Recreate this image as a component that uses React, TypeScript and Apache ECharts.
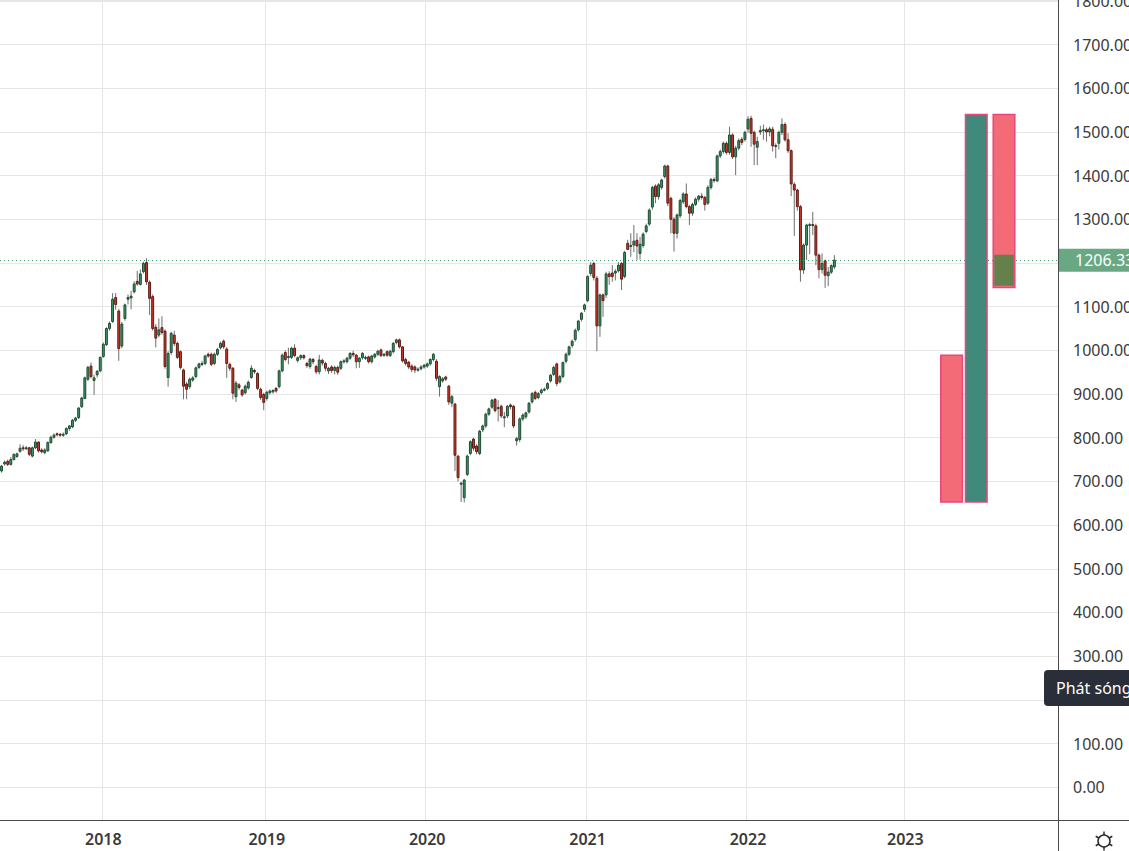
import { useEffect, useRef } from 'react';
import * as echarts from 'echarts';

// ---- weekly VN-Index style candles: [open, close, low, high] ----
const START_WEEK = '2017-05-15';
const SKIPPED_WEEKS = ['2022-01-31']; // Tết week, no trading bar
const TOTAL_SLOTS = 343; // bars + empty future weeks on the axis

const ohlc2017 = [
  [724, 735, 720, 738], [740, 744, 736, 748], [746, 739, 735, 750], [739, 750, 736, 756],
  [750, 762, 748, 764], [757, 763, 754, 766], [769, 776, 766, 785], [777, 776, 770, 783],
  [777, 777, 772, 781], [777, 762, 758, 779], [758, 777, 755, 780], [777, 790, 774, 797],
  [790, 770, 766, 792], [772, 768, 764, 776], [766, 772, 762, 776], [770, 789, 768, 792],
  [789, 801, 786, 805], [801, 806, 798, 810], [809, 807, 803, 812], [808, 806, 802, 811],
  [806, 808, 802, 812], [809, 821, 806, 824], [821, 827, 816, 829], [825, 840, 822, 843],
  [840, 845, 836, 848], [846, 868, 843, 870], [871, 891, 868, 894], [890, 937, 888, 940],
  [934, 961, 930, 965], [964, 940, 936, 972], [931, 937, 898, 944], [944, 952, 938, 955],
  [953, 984, 950, 986],
];

const ohlc2018 = [
  [986, 1014, 983, 1018], [1013, 1050, 1010, 1053], [1050, 1062, 1045, 1066], [1066, 1117, 1063, 1131],
  [1121, 1105, 1093, 1131], [1090, 1004, 976, 1095], [1010, 1060, 1005, 1065], [1073, 1104, 1068, 1107],
  [1117, 1121, 1105, 1128], [1120, 1124, 1094, 1136], [1134, 1152, 1130, 1158], [1158, 1152, 1148, 1182],
  [1151, 1175, 1148, 1185], [1180, 1199, 1176, 1203], [1201, 1157, 1150, 1211], [1156, 1119, 1081, 1160],
  [1123, 1050, 1045, 1128], [1053, 1028, 1007, 1060], [1035, 1047, 1030, 1073], [1052, 1041, 1036, 1078],
  [1044, 963, 958, 1048], [938, 993, 917, 998], [995, 1039, 990, 1043], [1035, 1016, 1010, 1045],
  [1016, 984, 980, 1020], [997, 961, 956, 1000], [955, 918, 888, 958], [923, 911, 888, 928],
  [917, 934, 912, 938], [932, 937, 928, 941], [940, 960, 936, 963], [961, 969, 957, 972],
  [968, 970, 964, 976], [970, 987, 966, 990], [991, 987, 983, 995], [991, 968, 964, 995],
  [970, 991, 966, 995], [991, 1002, 987, 1006], [1006, 1016, 1002, 1020], [1021, 1008, 1003, 1025],
  [1003, 970, 937, 1007], [968, 959, 953, 972], [959, 902, 888, 962], [894, 925, 882, 930],
  [921, 915, 910, 925], [909, 898, 894, 912], [903, 918, 899, 922], [914, 927, 910, 931],
  [938, 959, 935, 966], [954, 951, 946, 958], [947, 913, 909, 950], [911, 892, 886, 915],
  [899, 881, 863, 903],
];

const ohlc2019 = [
  [890, 904, 885, 908], [903, 907, 899, 910], [905, 908, 901, 911], [913, 907, 903, 916],
  [917, 953, 913, 956], [953, 989, 950, 993], [995, 979, 975, 1000], [984, 986, 968, 1006],
  [984, 1005, 980, 1008], [1005, 988, 984, 1014], [977, 983, 972, 986], [983, 988, 978, 991],
  [988, 983, 979, 991], [970, 965, 960, 974], [963, 980, 958, 983], [979, 974, 968, 983],
  [963, 951, 946, 967], [951, 978, 945, 990], [977, 971, 965, 981], [970, 959, 952, 974],
  [953, 959, 946, 962], [962, 954, 948, 966], [954, 961, 945, 965], [961, 950, 944, 965],
  [959, 974, 955, 977], [974, 976, 970, 980], [974, 982, 970, 985], [982, 993, 978, 996],
  [993, 990, 985, 999], [989, 974, 959, 992], [974, 982, 960, 985], [983, 993, 979, 996],
  [982, 984, 978, 988], [985, 974, 970, 988], [974, 987, 970, 990], [985, 991, 981, 994],
  [991, 998, 987, 1001], [1001, 988, 985, 1004], [989, 991, 985, 994], [997, 989, 985, 1000],
  [988, 998, 985, 1001], [997, 1016, 993, 1019], [1018, 1024, 1014, 1027], [1024, 1008, 1004, 1027],
  [1008, 976, 972, 1010], [979, 970, 965, 983], [973, 962, 957, 976], [964, 956, 950, 968],
  [962, 955, 948, 966], [956, 957, 951, 961], [958, 962, 954, 966], [962, 966, 958, 969],
];

const ohlc2020 = [
  [964, 969, 960, 972], [969, 979, 965, 982], [979, 991, 975, 994], [975, 936, 930, 980],
  [917, 940, 894, 943], [930, 935, 926, 939], [939, 934, 930, 942], [918, 882, 875, 921],
  [879, 894, 870, 898], [877, 760, 724, 880], [758, 709, 700, 760], [695, 696, 653, 699],
  [663, 703, 652, 706], [716, 758, 712, 762], [764, 791, 760, 794], [797, 776, 770, 800],
  [781, 768, 762, 785], [764, 815, 760, 818], [818, 827, 813, 830], [827, 854, 822, 857],
  [854, 866, 850, 869], [870, 886, 866, 889], [888, 862, 858, 891], [869, 869, 837, 886],
  [872, 850, 845, 876], [848, 848, 824, 859], [850, 872, 845, 875], [875, 871, 865, 878],
  [872, 827, 822, 875], [793, 798, 782, 802], [796, 843, 790, 847], [843, 852, 838, 856],
  [848, 857, 843, 860], [859, 879, 855, 882], [882, 901, 878, 905], [904, 890, 886, 908],
  [892, 901, 888, 905], [903, 909, 899, 913], [911, 911, 906, 915], [913, 924, 909, 927],
  [930, 943, 926, 946], [945, 961, 941, 965], [969, 924, 918, 972], [928, 940, 924, 944],
  [940, 972, 936, 975], [975, 991, 970, 995], [991, 1008, 987, 1011], [1011, 1021, 1006, 1025],
  [1025, 1046, 1020, 1050], [1047, 1067, 1043, 1070], [1071, 1085, 1066, 1088], [1094, 1104, 1088, 1107],
];

const ohlc2021 = [
  [1114, 1169, 1110, 1172], [1176, 1195, 1170, 1202], [1199, 1167, 1160, 1203], [1165, 1056, 998, 1170],
  [1056, 1127, 1031, 1130], [1127, 1114, 1077, 1130], [1127, 1175, 1120, 1180], [1175, 1169, 1150, 1181],
  [1177, 1169, 1157, 1195], [1177, 1181, 1160, 1186], [1182, 1195, 1178, 1202], [1199, 1163, 1138, 1202],
  [1169, 1224, 1165, 1228], [1245, 1231, 1230, 1253], [1240, 1240, 1214, 1268], [1241, 1250, 1225, 1287],
  [1252, 1239, 1207, 1268], [1222, 1243, 1208, 1260], [1240, 1266, 1235, 1270], [1272, 1285, 1268, 1290],
  [1289, 1321, 1285, 1325], [1328, 1373, 1322, 1377], [1376, 1352, 1337, 1380], [1352, 1379, 1345, 1383],
  [1373, 1390, 1368, 1393], [1398, 1422, 1393, 1425], [1422, 1337, 1330, 1425], [1348, 1300, 1268, 1352],
  [1300, 1268, 1226, 1305], [1268, 1310, 1256, 1313], [1308, 1343, 1303, 1347], [1340, 1358, 1335, 1362],
  [1358, 1329, 1325, 1382], [1329, 1314, 1287, 1333], [1314, 1334, 1308, 1338], [1334, 1346, 1330, 1350],
  [1346, 1353, 1340, 1356], [1353, 1350, 1345, 1360], [1350, 1334, 1320, 1354], [1337, 1373, 1333, 1378],
  [1373, 1391, 1368, 1395], [1391, 1389, 1384, 1396], [1388, 1445, 1385, 1448], [1445, 1455, 1440, 1460],
  [1455, 1474, 1450, 1478], [1474, 1453, 1448, 1478], [1453, 1493, 1448, 1512], [1493, 1443, 1438, 1497],
  [1443, 1463, 1401, 1468], [1463, 1480, 1458, 1485], [1483, 1476, 1470, 1488], [1483, 1499, 1478, 1503],
];

const ohlc2022 = [
  [1507, 1529, 1498, 1536], [1531, 1497, 1466, 1537], [1499, 1472, 1424, 1503], [1465, 1478, 1424, 1489],
  [1500, 1503, 1493, 1514], [1503, 1505, 1482, 1517], [1505, 1500, 1478, 1510], [1500, 1507, 1490, 1512],
  [1506, 1468, 1455, 1512], [1469, 1469, 1440, 1474], [1474, 1499, 1460, 1503], [1499, 1517, 1493, 1531],
  [1517, 1482, 1478, 1522], [1482, 1457, 1452, 1497], [1457, 1381, 1353, 1460], [1380, 1367, 1262, 1385],
  [1367, 1329, 1320, 1370], [1329, 1184, 1157, 1333], [1184, 1241, 1175, 1245], [1241, 1287, 1207, 1290],
  [1287, 1288, 1220, 1292], [1288, 1286, 1264, 1317], [1285, 1218, 1195, 1290], [1218, 1185, 1165, 1222],
  [1185, 1199, 1176, 1222], [1205, 1172, 1143, 1208], [1171, 1179, 1147, 1191], [1179, 1194, 1175, 1197],
  [1191, 1206.33, 1186, 1218],
];

// ---- drawn zones (price range boxes) ----
const zoneStarts = ['2023-03-27', '2023-05-22', '2023-07-24', '2023-07-24'];
const zoneEnds = ['2023-05-08', '2023-07-03', '2023-09-04', '2023-09-04'];
const zoneTops = [989, 1540, 1540, 1219];
const zoneBottoms = [653, 653, 1144, 1148];
const zoneKinds = ['loss', 'gain', 'loss', 'overlap'];

const tooltipText = 'Phát sóng';

const FONT = "'Noto Sans', 'Open Sans', sans-serif";
const UP_FILL = '#3f9a6b';
const UP_EDGE = '#1d4a31';
const DOWN_FILL = '#cf3b2b';
const DOWN_EDGE = '#5e1a13';
const WICK = '#6e6e6e';
const GRID = '#e6e6e6';
const AXIS = '#4a4a4a';
const ZONE_STYLE: Record<string, any> = {
  loss: { fill: '#f46b78', stroke: '#e8467c', lineWidth: 1.5 },
  gain: { fill: '#40897b', stroke: '#e8467c', lineWidth: 1.5 },
  overlap: { fill: '#66804b', stroke: 'none', lineWidth: 0 },
};

function buildWeeks(): string[] {
  const out: string[] = [];
  const [y, m, d] = START_WEEK.split('-').map(Number);
  const dt = new Date(Date.UTC(y, m - 1, d));
  while (out.length < TOTAL_SLOTS) {
    const s = dt.toISOString().slice(0, 10);
    if (!SKIPPED_WEEKS.includes(s)) out.push(s);
    dt.setUTCDate(dt.getUTCDate() + 7);
  }
  return out;
}

export default function App() {
  const ref = useRef<HTMLDivElement>(null);

  useEffect(() => {
    if (!ref.current) return;
    const chart = echarts.init(ref.current, null, { renderer: 'svg' });
    const weeks = buildWeeks();
    const bars = [...ohlc2017, ...ohlc2018, ...ohlc2019, ...ohlc2020, ...ohlc2021, ...ohlc2022];
    const candleData = bars.map((b, j) => [j, b[0], b[1], b[2], b[3]]);
    const lastClose = bars[bars.length - 1][1];
    const zoneData = zoneStarts.map((s, i) => [
      weeks.indexOf(s), weeks.indexOf(zoneEnds[i]), zoneTops[i], zoneBottoms[i],
    ]);
    const isYearStart = (index: number) =>
      index > 0 && index < weeks.length && weeks[index].slice(0, 4) !== weeks[index - 1].slice(0, 4);

    const option: any = {
      animation: false,
      backgroundColor: '#ffffff',
      grid: { left: 0, right: 71, top: 0, bottom: 31, containLabel: false, outerBoundsMode: 'none' },
      xAxis: {
        type: 'category',
        data: weeks,
        boundaryGap: true,
        axisLine: { show: true, onZero: false, lineStyle: { color: AXIS, width: 1 } },
        axisTick: { show: false },
        axisLabel: {
          interval: (index: number) => isYearStart(index),
          formatter: (v: string) => v.slice(0, 4),
          color: '#3a3a3a',
          fontSize: 16,
          fontWeight: 600,
          fontFamily: FONT,
          margin: 11,
        },
        splitLine: {
          show: true,
          interval: (index: number) => isYearStart(index),
          lineStyle: { color: GRID, width: 1 },
        },
      },
      yAxis: {
        type: 'value',
        position: 'right',
        min: -75,
        max: 1802,
        splitNumber: 19,
        axisLine: { show: true, onZero: false, lineStyle: { color: AXIS, width: 1 } },
        axisTick: { show: false },
        axisLabel: {
          formatter: (v: number) => v.toFixed(2),
          showMinLabel: false,
          showMaxLabel: false,
          margin: 15,
          color: '#3a3a3a',
          fontSize: 16,
          fontFamily: FONT,
        },
        splitLine: { show: true, lineStyle: { color: GRID, width: 1 } },
      },
      series: [
        {
          type: 'custom',
          name: 'VNINDEX',
          z: 2,
          encode: { x: 0, y: [1, 2, 3, 4] },
          data: candleData,
          renderItem: (params: any, api: any) => {
            const idx = api.value(0);
            const o = api.value(1);
            const c = api.value(2);
            const l = api.value(3);
            const h = api.value(4);
            const pO = api.coord([idx, o]);
            const pC = api.coord([idx, c]);
            const pL = api.coord([idx, l]);
            const pH = api.coord([idx, h]);
            const band = api.size([1, 0])[0];
            const w = Math.max(band * 0.62, 1);
            const up = c >= o;
            const top = Math.min(pO[1], pC[1]);
            const bh = Math.max(Math.abs(pO[1] - pC[1]), 1);
            return {
              type: 'group',
              children: [
                {
                  type: 'line',
                  shape: { x1: pO[0], y1: pH[1], x2: pO[0], y2: pL[1] },
                  style: { stroke: WICK, lineWidth: 1 },
                },
                {
                  type: 'rect',
                  shape: { x: pO[0] - w / 2, y: top, width: w, height: bh },
                  style: { fill: up ? UP_FILL : DOWN_FILL, stroke: up ? UP_EDGE : DOWN_EDGE, lineWidth: 1 },
                },
              ],
            };
          },
          markLine: {
            silent: true,
            symbol: ['none', 'none'],
            lineStyle: { color: '#3f9a6b', type: [1, 3], width: 1 },
            label: {
              show: true,
              position: 'end',
              distance: 1,
              formatter: () => lastClose.toFixed(2),
              backgroundColor: '#6aa884',
              color: '#ffffff',
              fontSize: 16,
              lineHeight: 17,
              fontFamily: FONT,
              padding: [3, 40, 3, 16],
            },
            data: [{ yAxis: lastClose }],
          },
        },
        {
          type: 'custom',
          name: 'zones',
          z: 5,
          encode: { x: [0, 1], y: [2, 3] },
          data: zoneData,
          renderItem: (params: any, api: any) => {
            const s = api.value(0);
            const e = api.value(1);
            const t = api.value(2);
            const b = api.value(3);
            const kind = zoneKinds[params.dataIndex];
            const st = ZONE_STYLE[kind];
            const band = api.size([1, 0])[0];
            const p1 = api.coord([s, t]);
            const p2 = api.coord([e, b]);
            const inset = kind === 'overlap' ? 1 : 0;
            const x1 = p1[0] - band / 2 + inset;
            const x2 = p2[0] + band / 2 - inset;
            return {
              type: 'rect',
              shape: { x: x1, y: p1[1], width: x2 - x1, height: p2[1] - p1[1] },
              style: { fill: st.fill, stroke: st.stroke, lineWidth: st.lineWidth },
            };
          },
        },
      ],
      graphic: [
        {
          type: 'line',
          z: 10,
          shape: { x1: 1058, y1: 820.5, x2: 1129, y2: 820.5 },
          style: { stroke: AXIS, lineWidth: 1 },
        },
        {
          type: 'line',
          z: 10,
          shape: { x1: 1058.5, y1: 820, x2: 1058.5, y2: 851 },
          style: { stroke: AXIS, lineWidth: 1 },
        },
        {
          type: 'group',
          x: 1104,
          y: 841,
          z: 10,
          children: [
            { type: 'circle', shape: { cx: 0, cy: 0, r: 6 }, style: { fill: 'none', stroke: '#2b2b2b', lineWidth: 1.5 } },
            ...[-90, -30, 30, 90, 150, 210].map((a) => {
              const r = (a * Math.PI) / 180;
              return {
                type: 'line',
                shape: { x1: Math.cos(r) * 6, y1: Math.sin(r) * 6, x2: Math.cos(r) * 9.5, y2: Math.sin(r) * 9.5 },
                style: { stroke: '#2b2b2b', lineWidth: 1.5 },
              };
            }),
          ],
        },
        {
          type: 'rect',
          z: 100,
          shape: { x: 1044, y: 670, width: 110, height: 36, r: 4 },
          style: { fill: '#2a2e39' },
        },
        {
          type: 'text',
          z: 101,
          style: {
            text: tooltipText,
            x: 1056,
            y: 688,
            verticalAlign: 'middle',
            fill: '#ffffff',
            fontSize: 16,
            fontFamily: FONT,
          },
        },
      ],
    };

    chart.setOption(option);
    return () => chart.dispose();
  }, []);

  return (
    <div
      ref={ref}
      style={{ position: 'fixed', left: 0, top: 0, width: 1129, height: 851, background: '#ffffff' }}
    />
  );
}
